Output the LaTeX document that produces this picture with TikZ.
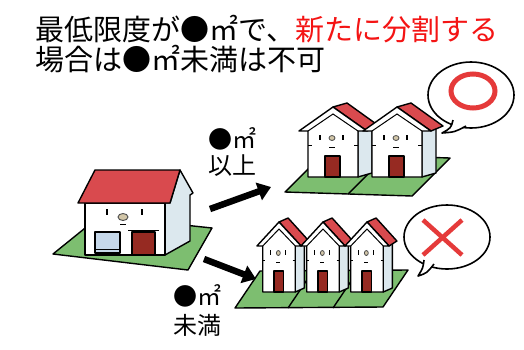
\documentclass[tikz,border=0pt]{standalone}
\usepackage{fontspec}
\setmainfont{Noto Sans CJK JP}
\usetikzlibrary{arrows.meta}

\definecolor{roofred}{HTML}{D94A4E}
\definecolor{lawn}{HTML}{7DBE70}
\definecolor{doorred}{HTML}{962A22}
\definecolor{sidewall}{HTML}{DCE8EE}
\definecolor{glass}{HTML}{C6D8EA}
\definecolor{nosetone}{HTML}{D2C6A8}
\definecolor{markred}{HTML}{E53A3A}
\definecolor{titlered}{HTML}{F41414}

\tikzset{
  outline/.style={draw=black, line width=1.4pt, line join=round},
  lot/.style={outline, fill=lawn},
  bigarrow/.style={line width=6.5pt, -{Triangle[length=13pt,width=18pt]}},
  bubble/.style={outline, line width=1.6pt, fill=white},
  titletext/.style={anchor=base west, inner sep=0pt, font=\fontsize{29}{29}\selectfont},
  areatext/.style={anchor=base west, inner sep=0pt, font=\fontsize{24}{24}\selectfont},
  % small house seen from its gable end, origin at the middle of the front wall's foot
  pics/gablehouse/.style={code={
    \path[outline, fill=sidewall] (25,0) -- (39,-4) -- (39,-48) -- (25,-48) -- cycle;
    \path[outline, fill=roofred] (0,-70) -- (14,-74) -- (46,-51) -- (34,-46) -- cycle;
    \path[outline, fill=white] (-25,0) -- (25,0) -- (25,-46) -- (34,-46) -- (0,-70)
      -- (-34,-46) -- (-25,-46) -- cycle;
    \draw[line width=1pt] (-25,-46) -- (0,-63) -- (25,-46);
    \draw[line width=1pt] (-25,-32) -- (-21,-32) (21,-32) -- (25,-32);
    \path[outline, fill=doorred] (-8,0) rectangle (7,-21);
    \draw[line width=1.5pt] (-13,-42) -- (-13,-37) (10,-42) -- (10,-37);
    \path[draw=black!70, line width=0.8pt, fill=nosetone] (-1,-39) ellipse [x radius=3, y radius=2.5];
    \draw[line width=1pt] (-4,-30) -- (2,-30);
  }}
}

\begin{document}
\begin{tikzpicture}[x=1pt, y=-1pt]
  \useasboundingbox (0,0) rectangle (524,349);
  \fill[white] (0,0) rectangle (524,349);

  % heading
  \node[titletext] (t1) at (35,40) {最低限度が●㎡で、\textcolor{titlered}{新たに分割する}};
  \node[titletext] (t2) at (35,70) {場合は●㎡未満は不可};

  % original plot and house
  \path[lot] (53,254) -- (100,216) -- (212,228) -- (188,270) -- cycle;
  \path[outline, fill=sidewall] (165,255) -- (190,241) -- (190,195) -- (193,193)
    -- (180,170) -- (170,203) -- (165,203) -- cycle;
  \path[outline, fill=white] (85,203) rectangle (165,255);
  \path[outline, fill=roofred] (78,203) -- (95,170) -- (180,170) -- (170,203) -- cycle;
  \path[outline, fill=glass] (95,232) rectangle (120,253);
  \draw[line width=1pt] (95,249) -- (120,249);
  \path[outline, fill=doorred] (132,232) rectangle (155,255);
  \draw[line width=1pt] (128,230) -- (159,230);
  \draw[line width=1.8pt] (107,209) -- (107,215) (142,209) -- (142,215);
  \path[draw=black!70, line width=0.9pt, fill=nosetone] (123,217) ellipse [x radius=5, y radius=3.5];
  \draw[line width=1pt] (120,224) -- (126,224);

  % split into two plots
  \path[lot] (285,192) -- (323,154) -- (450,158) -- (412,196) -- cycle;
  \draw[line width=1.4pt] (348,194) -- (386,156);
  \pic at (333,177) {gablehouse};
  \pic at (397,177) {gablehouse};

  % split into three plots
  \path[lot] (235,308) -- (260,271) -- (408,270) -- (383,307) -- cycle;
  \draw[line width=1.4pt] (288,308) -- (313,271) (333,308) -- (358,271);
  \pic[xscale=0.65] at (279,292) {gablehouse};
  \pic[xscale=0.65] at (323,292) {gablehouse};
  \pic[xscale=0.65] at (367,292) {gablehouse};

  % arrows
  \coordinate (up0) at (210,209);
  \coordinate (up1) at (271,187);
  \coordinate (dn0) at (204,259);
  \coordinate (dn1) at (256,279);
  \draw[bigarrow] (up0) -- (up1);
  \draw[bigarrow] (dn0) -- (dn1);

  % area labels
  \node[areatext] (a1) at (208,148) {●㎡};
  \node[areatext] (a2) at (208,174) {以上};
  \node[areatext] (b1) at (173,305) {●㎡};
  \node[areatext] (b2) at (173,334) {未満};

  % speech bubble: allowed
  \path[bubble] (471,95) ellipse [x radius=43, y radius=33];
  \path[draw=black, line width=1.6pt, fill=white, line join=round]
    (453,120) .. controls (451,128) .. (442,133) .. controls (455,132) .. (466,126);
  \draw[markred, line width=5pt] (473,91) ellipse [x radius=22, y radius=17];

  % speech bubble: not allowed
  \path[bubble] (447,237) ellipse [x radius=43, y radius=32];
  \path[draw=black, line width=1.6pt, fill=white, line join=round]
    (424,260) .. controls (423,268) .. (418,276) .. controls (427,273) .. (434,264);
  \draw[markred, line width=4.5pt] (423,220) -- (462,255) (462,220) -- (423,255);
\end{tikzpicture}
\end{document}
